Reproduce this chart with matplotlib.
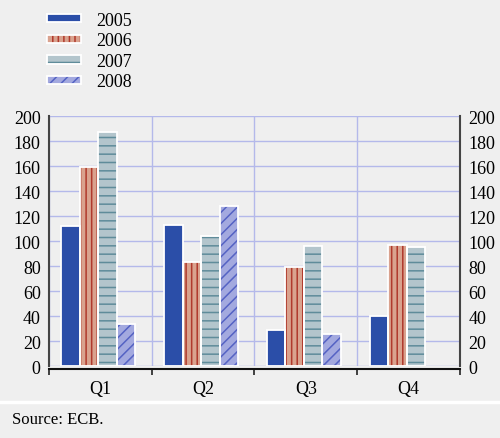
import matplotlib
matplotlib.use("Agg")
import matplotlib.pyplot as plt
from matplotlib.patches import Patch
from matplotlib.legend_handler import HandlerTuple
from matplotlib.lines import Line2D
import numpy as np

quarters = ["Q1", "Q2", "Q3", "Q4"]
years = ["2005", "2006", "2007", "2008"]
v2005 = [112, 113, 29, 40]
v2006 = [159, 83, 79, 97]
v2007 = [187, 104, 96, 95]
v2008 = [34, 128, 26, np.nan]
yticks = [0, 20, 40, 60, 80, 100, 120, 140, 160, 180, 200]

plt.rcParams['font.family'] = ['Liberation Serif', 'DejaVu Serif']
plt.rcParams['hatch.linewidth'] = 1.1

bg = "#efefef"
grid_col = "#b4b9ea"
# (fill, hatch colour, hatch)
styles = [("#2b4ea8", "#2b4ea8", None),
          ("#d9a28e", "#b0392c", "|||"),
          ("#b3c5cc", "#5f8c9a", "--"),
          ("#a3a9df", "#5563c4", "///")]

fig = plt.figure(figsize=(5.0, 4.39), dpi=100, facecolor=bg)
ax = fig.add_axes([0.098, 0.164, 0.822, 0.569])
ax.set_facecolor(bg)

x = np.arange(len(quarters))
w = 0.18
handles = []
for i, vals in enumerate([v2005, v2006, v2007, v2008]):
    fc, hc, h = styles[i]
    pos = x + (i - 1.5) * w - 0.02
    ax.bar(pos, vals, w, color=fc, edgecolor=hc, linewidth=0, hatch=h, zorder=2)
    ax.bar(pos, vals, w, fill=False, edgecolor="white", linewidth=1.3, zorder=3)
    handles.append((Patch(facecolor=fc, edgecolor=hc, hatch=h, linewidth=0),
                    Patch(fill=False, edgecolor="white", linewidth=1.3)))

ax.set_xlim(-0.5, 3.5)
ax.set_ylim(0, 200)
ax.set_yticks(yticks)
ax.set_xticks(x)
ax.set_xticklabels(quarters)
ax.set_xticks(np.arange(-0.5, 4.0, 1.0), minor=True)
ax.tick_params(axis="x", which="major", length=0, labelsize=13, pad=8)
ax.tick_params(axis="x", which="minor", length=4, width=1.2, color="#222222", direction="out")
ax.tick_params(axis="y", length=0, labelsize=13, labelright=True, pad=6)

ax.grid(axis="y", color=grid_col, linewidth=1.0, zorder=0)
ax.grid(axis="x", which="minor", color=grid_col, linewidth=1.0, zorder=0)
ax.set_axisbelow(True)

for s in ["left", "right"]:
    ax.spines[s].set_color("#444444")
    ax.spines[s].set_linewidth(1.5)
ax.spines["top"].set_visible(False)
ax.spines["bottom"].set_color("#111111")
ax.spines["bottom"].set_linewidth(1.5)
ax.spines["bottom"].set_position(("outward", 2))

fig.legend(handles, years, loc="upper left", bbox_to_anchor=(0.069, 1.0),
           frameon=False, fontsize=13, handlelength=1.85, handleheight=0.35,
           labelspacing=0.2, handletextpad=0.85, borderaxespad=0.3,
           handler_map={tuple: HandlerTuple(ndivide=1, pad=0)})

# white separator and source note
fig.add_artist(Line2D([0, 1], [0.082, 0.082], color="white", linewidth=2.5))
fig.text(0.024, 0.043, "Source: ECB.", fontsize=12, va="center", ha="left")

fig.savefig("out.png", dpi=100, facecolor=bg)
